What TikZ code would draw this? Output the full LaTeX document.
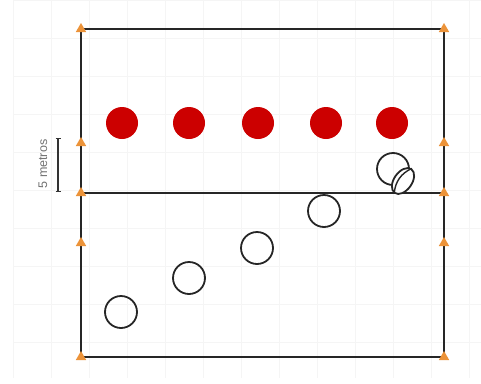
\documentclass[tikz,border=0pt]{standalone}
\usepackage{fontspec}
\setsansfont{Liberation Sans}
\usetikzlibrary{shapes.geometric}
\begin{document}
\begin{tikzpicture}[x=1pt,y=-1pt,
  court/.style={line width=1.8pt, draw=black!85},
  cone/.style={regular polygon, regular polygon sides=3, fill=orange!65!brown!85, draw=none, minimum size=12pt, inner sep=0pt},
  defender/.style={circle, fill=red!80!black, draw=none, minimum size=32pt, inner sep=0pt},
  attacker/.style={circle, draw=black!85, line width=1.8pt, fill=none, minimum size=32pt, inner sep=0pt},
  gridline/.style={draw=black!4, line width=0.6pt}]
\useasboundingbox (0,0) rectangle (481,383);
\fill[white] (0,0) rectangle (481,383);
\foreach \gx in {13,51,...,475} \draw[gridline] (\gx,0) -- (\gx,378);
\foreach \gy in {0,38,...,378} \draw[gridline] (13,\gy) -- (481,\gy);
% court
\coordinate (tl) at (81,29);
\coordinate (tr) at (444,29);
\coordinate (bl) at (81,357);
\coordinate (br) at (444,357);
\coordinate (ml) at (81,193);
\coordinate (mr) at (444,193);
\draw[court] (tl) -- (tr) -- (br) -- (bl) -- cycle;
\draw[court] (ml) -- (mr);
% cones
\foreach \cx/\cy [count=\i] in {81/29,81/143,81/193,81/243,81/357,444/29,444/143,444/193,444/243,444/357}
  \node[cone] (c\i) at (\cx,\cy) {};
% scale bar
\coordinate (s1) at (58,138);
\coordinate (s2) at (58,191);
\draw[line width=1.6pt, black!80] (s1) -- (s2);
\draw[line width=1pt, black!80] ([xshift=-2.5pt]s1) -- ([xshift=2.5pt]s1) ([xshift=-2.5pt]s2) -- ([xshift=2.5pt]s2);
\node[rotate=90, text=black!55, font=\sffamily\fontsize{12.5}{14}\selectfont] (lbl) at (43,164) {5 metros};
% defenders
\foreach \dx [count=\i] in {122,189,258,326,392}
  \node[defender] (d\i) at (\dx,123) {};
% attackers
\node[attacker] (a1) at (121,312) {};
\node[attacker] (a2) at (189,278) {};
\node[attacker] (a3) at (257,248) {};
\node[attacker] (a4) at (324,211) {};
\node[attacker] (a5) at (393,169) {};
% ball
\node[ellipse, draw=black!85, fill=white, line width=1.8pt, minimum width=29pt, minimum height=18pt, inner sep=0pt, rotate=55] (ball) at (403,181) {};
\draw[black!85, line width=1.4pt] (ball.west) to[bend left=30] (ball.east);
\end{tikzpicture}
\end{document}
